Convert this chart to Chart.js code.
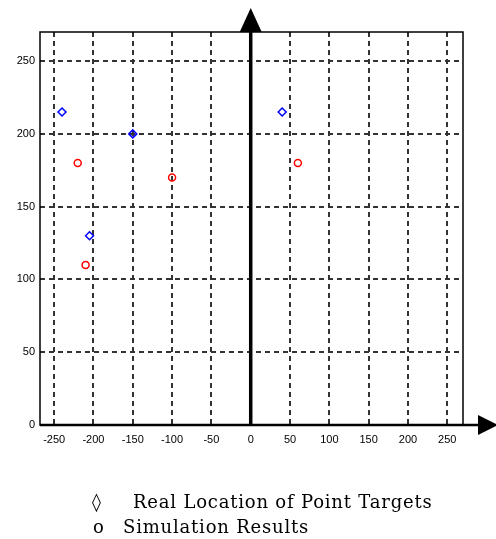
<!DOCTYPE html>
<html>
<head>
<meta charset="utf-8">
<script src="https://cdn.jsdelivr.net/npm/chart.js@4.4.1/dist/chart.umd.min.js"></script>
<style>
  body { margin: 0; background: #fff; }
  #wrap { position: relative; width: 496px; height: 539px; }
  .leg { position: absolute; font-family: "DejaVu Serif", serif; font-size: 18px; letter-spacing: 0.8px; color: #000; white-space: nowrap; }
</style>
</head>
<body>
<div id="wrap">
  <canvas id="myChart" width="496" height="539"></canvas>
  <div class="leg" style="left:92px; top:491px;">&#9674;</div>
  <div class="leg" style="left:133px; top:491px;">Real Location of Point Targets</div>
  <div class="leg" style="left:93px; top:516px;">o</div>
  <div class="leg" style="left:123px; top:516px;">Simulation Results</div>
</div>
<script>
// real target locations (blue diamonds)
const targetX = [-240, -150, -205, 40];
const targetY = [215, 200, 130, 215];

// simulation results (red circles)
const simX = [-220, -100, -210, 60];
const simY = [180, 170, 110, 180];

const xTicks = [-250, -200, -150, -100, -50, 0, 50, 100, 150, 200, 250];
const yTicks = [0, 50, 100, 150, 200, 250];

// box, thick axes and arrow heads
const axesPlugin = {
  id: "axesArrows",
  afterDraw(chart) {
    const c = chart.ctx;
    const a = chart.chartArea;
    const x0 = chart.scales.x.getPixelForValue(0);
    const y0 = chart.scales.y.getPixelForValue(0);
    c.save();
    c.strokeStyle = "#000";
    c.fillStyle = "#000";
    c.setLineDash([]);
    c.lineWidth = 1.5;
    c.strokeRect(a.left, a.top, a.right - a.left, a.bottom - a.top);

    // vertical axis
    c.lineWidth = 3.5;
    c.beginPath();
    c.moveTo(x0, a.bottom);
    c.lineTo(x0, a.top - 2);
    c.stroke();
    c.beginPath();
    c.moveTo(x0, 8);
    c.lineTo(x0 - 11, a.top);
    c.lineTo(x0 + 11, a.top);
    c.closePath();
    c.fill();

    // horizontal axis
    c.lineWidth = 2.5;
    c.beginPath();
    c.moveTo(a.left, y0);
    c.lineTo(480, y0);
    c.stroke();
    c.beginPath();
    c.moveTo(498, y0);
    c.lineTo(478, y0 - 10);
    c.lineTo(478, y0 + 10);
    c.closePath();
    c.fill();
    c.restore();
  }
};

const ctx = document.getElementById("myChart");

new Chart(ctx, {
  type: "scatter",
  data: {
    datasets: [
      {
        label: "Real Location of Point Targets",
        data: targetX.map((x, i) => ({ x: x, y: targetY[i] })),
        pointStyle: "rectRot",
        pointRadius: 4,
        borderColor: "#0000ff",
        backgroundColor: "rgba(0,0,0,0)",
        borderWidth: 1.5
      },
      {
        label: "Simulation Results",
        data: simX.map((x, i) => ({ x: x, y: simY[i] })),
        pointStyle: "circle",
        pointRadius: 3.5,
        borderColor: "#ff0000",
        backgroundColor: "rgba(0,0,0,0)",
        borderWidth: 1.5
      }
    ]
  },
  options: {
    responsive: false,
    animation: false,
    layout: { padding: { left: 0, top: 32, right: 33, bottom: 84 } },
    plugins: {
      legend: { display: false },
      tooltip: { enabled: false }
    },
    scales: {
      x: {
        type: "linear",
        min: -268,
        max: 270,
        afterBuildTicks: (scale) => { scale.ticks = xTicks.map(v => ({ value: v })); },
        afterFit: (scale) => { scale.height = 30; },
        border: { display: false, dash: [5, 4] },
        grid: { color: "#333", lineWidth: 2, drawTicks: false },
        ticks: { color: "#000", padding: 8, maxRotation: 0, font: { family: "Liberation Sans", size: 11 } }
      },
      y: {
        type: "linear",
        min: 0,
        max: 270,
        afterBuildTicks: (scale) => { scale.ticks = yTicks.map(v => ({ value: v })); },
        afterFit: (scale) => { scale.width = 40; },
        border: { display: false, dash: [5, 4] },
        grid: { color: "#333", lineWidth: 2, drawTicks: false },
        ticks: { color: "#000", padding: 5, font: { family: "Liberation Sans", size: 11 } }
      }
    }
  },
  plugins: [axesPlugin]
});
</script>
</body>
</html>
